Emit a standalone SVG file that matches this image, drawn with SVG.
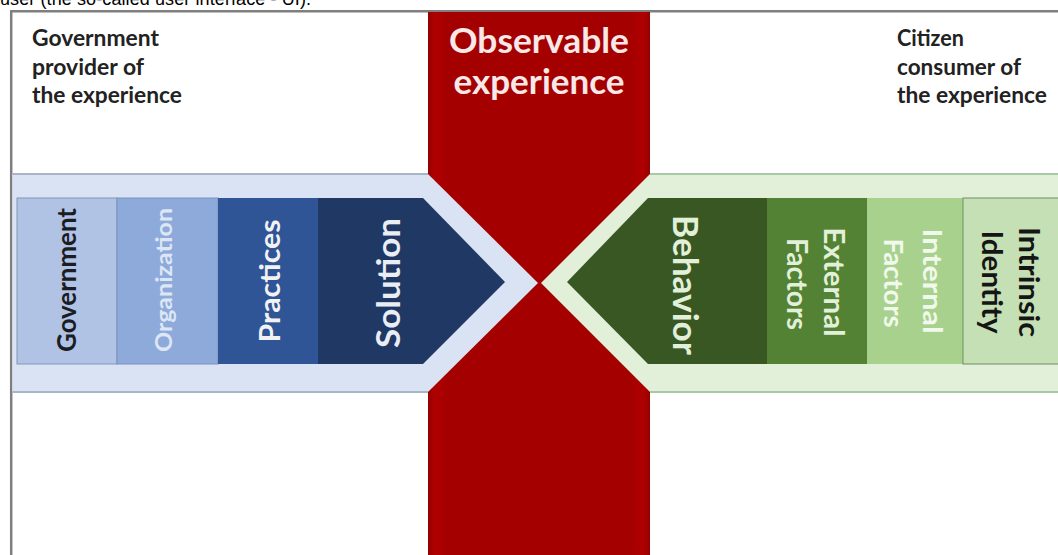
<svg xmlns="http://www.w3.org/2000/svg" width="1058" height="555" viewBox="0 0 1058 555">
  <style>
    .lbl { font-family: Lato, "Open Sans", "Liberation Sans", sans-serif; font-weight: 700; }
    .corner { font-size: 22px; fill: #222222; }
    .hdr { font-family: "Liberation Sans", Arial, sans-serif; font-size: 18px; fill: #000; }
    .mid { text-anchor: middle; }
  </style>
  <defs>
    <linearGradient id="redGrad" x1="0" y1="0" x2="1" y2="0">
      <stop offset="0" stop-color="#950000"/>
      <stop offset="0.03" stop-color="#b00000"/>
      <stop offset="0.09" stop-color="#a40000"/>
      <stop offset="0.91" stop-color="#a40000"/>
      <stop offset="0.97" stop-color="#b00000"/>
      <stop offset="1" stop-color="#950000"/>
    </linearGradient>
  </defs>
  <rect x="0" y="0" width="1058" height="555" fill="#ffffff"/>

  <text class="hdr" x="0" y="4.5" textLength="311" lengthAdjust="spacing">user (the so-called user interface - UI).</text>

  <g id="frame">
    <path d="M11.2 555 V11.2 H1058" fill="none" stroke="#7f7f7f" stroke-width="2.5"/>
  </g>

  <g id="observable-experience">
    <rect x="428" y="12" width="222" height="543" fill="url(#redGrad)"/>
    <text class="lbl mid" x="539" y="53" font-size="35" fill="#f8e8e8" textLength="180" lengthAdjust="spacingAndGlyphs">Observable</text>
    <text class="lbl mid" x="539" y="94" font-size="35" fill="#f8e8e8" textLength="171" lengthAdjust="spacingAndGlyphs">experience</text>
  </g>

  <g id="provider-band">
    <polygon points="12.5,174 428,174 538,283 428,392 12.5,392" fill="#dae3f3"/>
    <line x1="12.5" y1="174" x2="428" y2="174" stroke="#a9b4c4" stroke-width="2"/>
    <line x1="12.5" y1="392" x2="428" y2="392" stroke="#a9b4c4" stroke-width="2"/>
  </g>

  <g id="consumer-band">
    <polygon points="1058,174 650,174 541,283 650,392 1058,392" fill="#e2f0d9"/>
    <line x1="650" y1="174" x2="1058" y2="174" stroke="#a9c9a4" stroke-width="2"/>
    <line x1="650" y1="392" x2="1058" y2="392" stroke="#a9c9a4" stroke-width="2"/>
  </g>

  <g id="government">
    <rect x="17" y="198" width="100" height="166" fill="#b0c3e4" stroke="#8496b4" stroke-width="1"/>
    <text class="lbl mid" transform="translate(76,280) rotate(-90)" font-size="26" fill="#1c1c24" textLength="144" lengthAdjust="spacingAndGlyphs">Government</text>
  </g>

  <g id="organization">
    <rect x="117" y="198" width="101" height="166" fill="#8eaadb" stroke="#7a92bd" stroke-width="1"/>
    <text class="lbl mid" transform="translate(172,280) rotate(-90)" font-size="23" fill="#dde6f5" textLength="144" lengthAdjust="spacingAndGlyphs">Organization</text>
  </g>

  <g id="practices">
    <rect x="218" y="198" width="100" height="166" fill="#2f5597"/>
    <text class="lbl mid" transform="translate(280,281) rotate(-90)" font-size="29" fill="#f2f2f2" textLength="123" lengthAdjust="spacingAndGlyphs">Practices</text>
  </g>

  <g id="solution">
    <polygon points="318,198 423,198 505,282 423,364 318,364" fill="#1f3864"/>
    <text class="lbl mid" transform="translate(400,283) rotate(-90)" font-size="33" fill="#e9edf4" textLength="130" lengthAdjust="spacingAndGlyphs">Solution</text>
  </g>

  <g id="behavior">
    <polygon points="767,198 648,198 567,282 648,364 767,364" fill="#385723"/>
    <text class="lbl mid" transform="translate(673,285) rotate(90)" font-size="34" fill="#e2f0d9" textLength="140" lengthAdjust="spacingAndGlyphs">Behavior</text>
  </g>

  <g id="external-factors">
    <rect x="767" y="198" width="100" height="166" fill="#548235"/>
    <text class="lbl mid" transform="translate(824,282) rotate(90)" font-size="28" fill="#e2f0d9" textLength="109" lengthAdjust="spacingAndGlyphs">External</text>
    <text class="lbl mid" transform="translate(787,284) rotate(90)" font-size="28" fill="#e2f0d9" textLength="92" lengthAdjust="spacingAndGlyphs">Factors</text>
  </g>

  <g id="internal-factors">
    <rect x="867" y="198" width="96" height="166" fill="#a9d18e"/>
    <text class="lbl mid" transform="translate(923,281) rotate(90)" font-size="27" fill="#f1f9ec" textLength="105" lengthAdjust="spacingAndGlyphs">Internal</text>
    <text class="lbl mid" transform="translate(884,283) rotate(90)" font-size="27" fill="#f1f9ec" textLength="89" lengthAdjust="spacingAndGlyphs">Factors</text>
  </g>

  <g id="intrinsic-identity">
    <rect x="963" y="198" width="96" height="166" fill="#c5e0b4" stroke="#6f8f62" stroke-width="1"/>
    <text class="lbl mid" transform="translate(1019,282) rotate(90)" font-size="28" fill="#151515" textLength="110" lengthAdjust="spacingAndGlyphs">Intrinsic</text>
    <text class="lbl mid" transform="translate(982,282) rotate(90)" font-size="28" fill="#151515" textLength="103" lengthAdjust="spacingAndGlyphs">Identity</text>
  </g>

  <g id="provider-label">
    <text class="lbl corner" x="32" y="46" textLength="127" lengthAdjust="spacingAndGlyphs">Government</text>
    <text class="lbl corner" x="32" y="75" textLength="112" lengthAdjust="spacingAndGlyphs">provider of</text>
    <text class="lbl corner" x="32" y="103" textLength="150" lengthAdjust="spacingAndGlyphs">the experience</text>
  </g>

  <g id="consumer-label">
    <text class="lbl corner" x="897" y="46" textLength="67" lengthAdjust="spacingAndGlyphs">Citizen</text>
    <text class="lbl corner" x="897" y="75" textLength="124" lengthAdjust="spacingAndGlyphs">consumer of</text>
    <text class="lbl corner" x="897" y="103" textLength="150" lengthAdjust="spacingAndGlyphs">the experience</text>
  </g>

  <g id="connectors"/>
</svg>
